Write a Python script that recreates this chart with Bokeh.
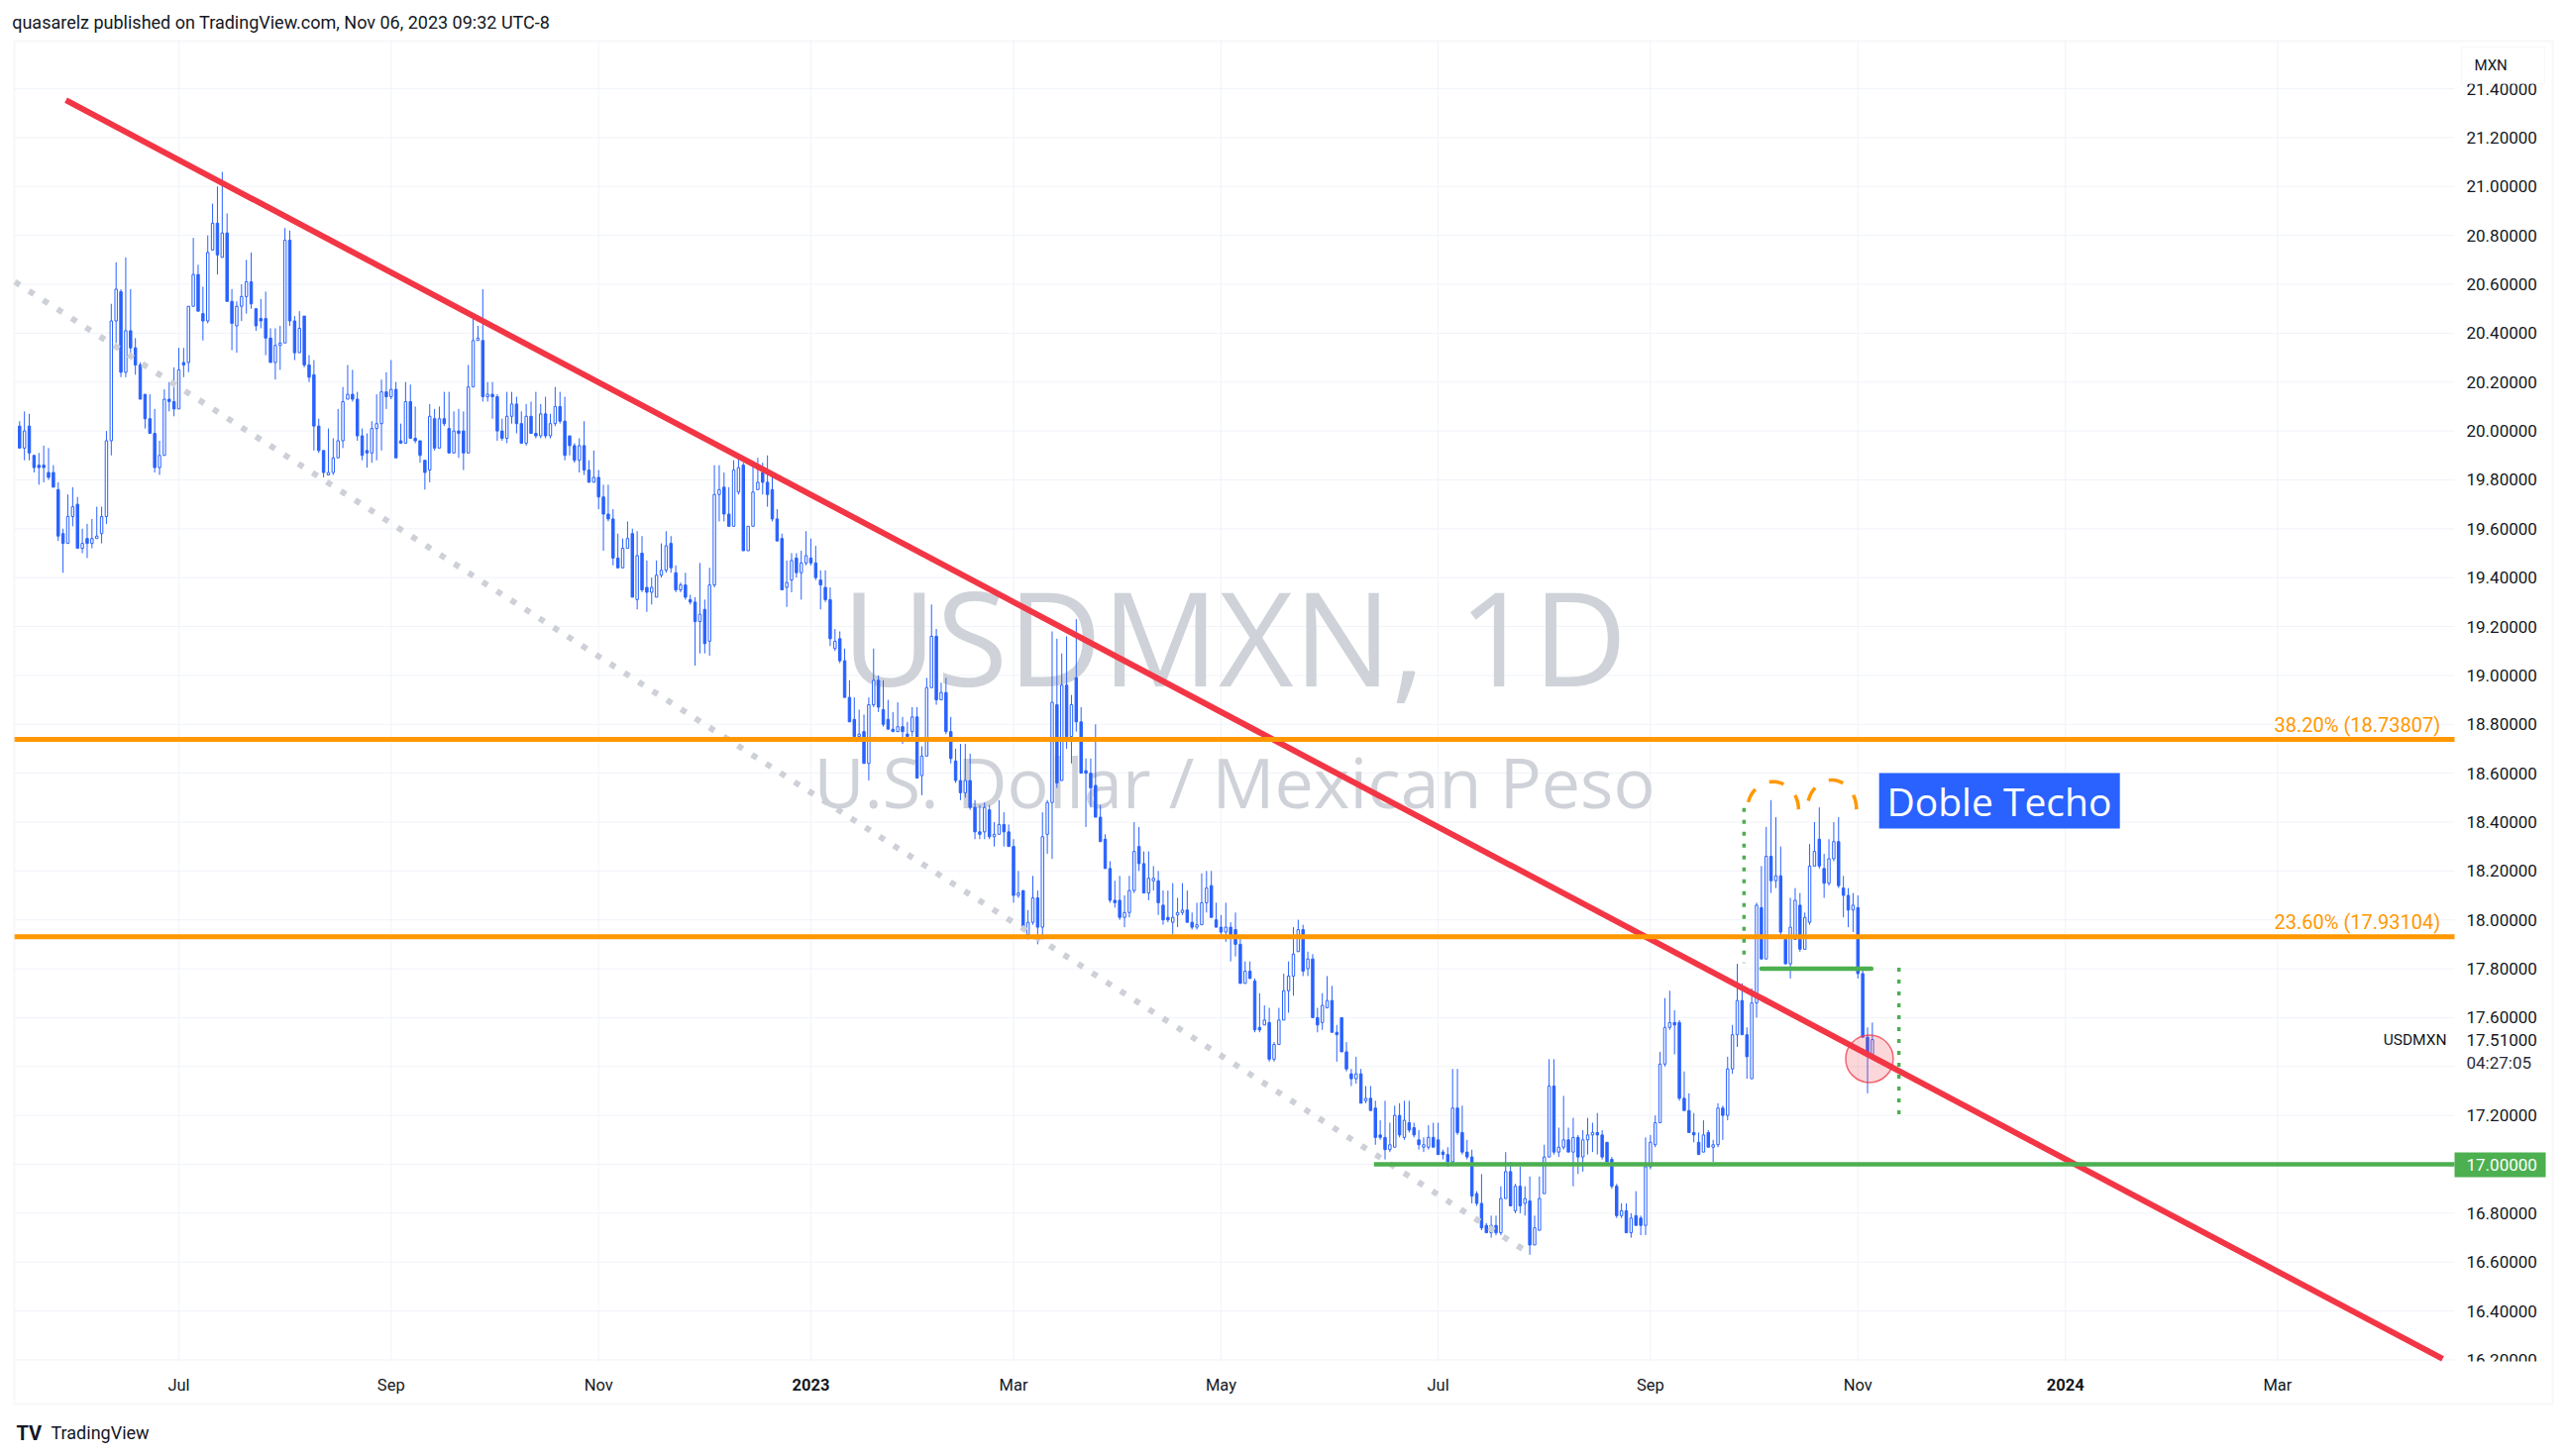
import numpy as np
from bokeh.plotting import figure
from bokeh.models import (Range1d, FixedTicker, PrintfTickFormatter, Label, BoxAnnotation)
from bokeh.core.properties import value
from bokeh.embed import file_html
from bokeh.resources import INLINE

# ---------------- data (daily USDMXN candles, business-day bar index) ----------------
# bar 0 = 2022-07-01 ; first bar (-33) = 2022-05-17 ; last bar (351) = 2023-11-06
FIRST_BAR = -33

opens = [
    20.02, 19.93, 20.02, 19.90, 19.86, 19.86, 19.83, 19.83, 19.76, 19.58,
    19.54, 19.65, 19.70, 19.52, 19.56, 19.54, 19.56, 19.58, 19.65, 19.96,
    20.45, 20.57, 20.24, 20.41, 20.34, 20.27, 20.15, 20.05, 19.99, 19.85,
    19.90, 20.13, 20.12, 20.09, 20.28, 20.28, 20.51, 20.64, 20.48, 20.45,
    20.74, 20.85, 20.71, 20.81, 20.53, 20.43, 20.51, 20.55, 20.61, 20.50,
    20.46, 20.46, 20.38, 20.28, 20.35, 20.36, 20.78, 20.45, 20.32, 20.47,
    20.27, 20.23, 20.02, 19.92, 19.82, 19.83, 19.89, 19.96, 20.13, 20.15,
    20.13, 19.98, 19.92, 19.91, 20.01, 20.03, 20.16, 20.14, 20.17, 19.96,
    19.95, 20.12, 19.97, 19.96, 19.88, 19.84, 20.05, 19.93, 20.05, 20.01,
    19.91, 20.00, 20.00, 19.91, 20.18, 20.37, 20.37, 20.14, 20.15, 20.14,
    20.00, 19.97, 20.06, 20.11, 20.03, 19.95, 20.06, 19.99, 19.98, 20.07,
    19.98, 20.03, 20.10, 20.04, 19.98, 19.94, 19.88, 19.94, 19.84, 19.79,
    19.81, 19.73, 19.66, 19.64, 19.48, 19.44, 19.52, 19.58, 19.31, 19.50,
    19.36, 19.34, 19.32, 19.41, 19.43, 19.54, 19.42, 19.35, 19.37, 19.31,
    19.30, 19.22, 19.27, 19.14, 19.37, 19.74, 19.77, 19.66, 19.61, 19.75,
    19.86, 19.51, 19.61, 19.76, 19.83, 19.79, 19.76, 19.64, 19.56, 19.36,
    19.39, 19.48, 19.42, 19.46, 19.48, 19.46, 19.39, 19.36, 19.31, 19.11,
    19.15, 19.06, 18.91, 18.82, 18.75, 18.77, 18.64, 18.88, 18.98, 18.86,
    18.82, 18.78, 18.77, 18.79, 18.76, 18.77, 18.83, 18.59, 18.67, 18.95,
    19.16, 18.90, 18.93, 18.77, 18.65, 18.57, 18.52, 18.57, 18.46, 18.36,
    18.36, 18.45, 18.34, 18.35, 18.39, 18.36, 18.30, 18.10, 18.12, 17.94,
    17.99, 18.09, 17.97, 18.35, 18.48, 18.88, 18.57, 18.96, 18.75, 18.99,
    18.81, 18.61, 18.60, 18.55, 18.42, 18.33, 18.21, 18.08, 18.08, 18.01,
    18.03, 18.12, 18.30, 18.23, 18.11, 18.16, 18.16, 18.06, 18.01, 17.99,
    18.02, 18.03, 18.04, 17.99, 17.97, 17.98, 18.07, 18.14, 18.00, 17.97,
    17.95, 17.97, 17.96, 17.90, 17.74, 17.79, 17.75, 17.56, 17.57, 17.58,
    17.43, 17.49, 17.59, 17.71, 17.77, 17.87, 17.96, 17.80, 17.84, 17.60,
    17.58, 17.64, 17.67, 17.54, 17.60, 17.46, 17.37, 17.35, 17.37, 17.26,
    17.27, 17.23, 17.12, 17.11, 17.06, 17.07, 17.20, 17.11, 17.17, 17.15,
    17.10, 17.07, 17.07, 17.11, 17.10, 17.05, 17.04, 17.01, 17.23, 17.13,
    17.05, 17.03, 16.88, 16.84, 16.75, 16.72, 16.75, 16.72, 16.86, 16.97,
    16.81, 16.91, 16.84, 16.85, 16.67, 16.73, 16.88, 17.03, 17.32, 17.05,
    17.07, 17.10, 17.05, 17.11, 17.03, 17.10, 17.12, 17.13, 17.12, 17.09,
    17.02, 16.91, 16.79, 16.81, 16.72, 16.79, 16.78, 16.75, 16.99, 17.08,
    17.17, 17.41, 17.56, 17.58, 17.58, 17.27, 17.22, 17.13, 17.09, 17.05,
    17.13, 17.07, 17.08, 17.23, 17.20, 17.39, 17.53, 17.67, 17.53, 17.35,
    17.66, 18.05, 17.84, 18.26, 18.16, 18.18, 17.92, 17.82, 17.92, 18.06,
    17.88, 17.99, 18.22, 18.33, 18.21, 18.15, 18.25, 18.32, 18.13, 18.10,
    18.04, 18.05, 17.78, 17.52, 17.45,
]
highs = [
    20.04, 20.08, 20.07, 19.90, 19.91, 19.94, 19.93, 19.86, 19.79, 19.60,
    19.74, 19.77, 19.73, 19.60, 19.62, 19.64, 19.69, 19.69, 20.00, 20.52,
    20.69, 20.58, 20.71, 20.58, 20.38, 20.28, 20.15, 20.15, 20.09, 19.96,
    20.17, 20.20, 20.26, 20.34, 20.34, 20.51, 20.79, 20.68, 20.59, 20.80,
    20.93, 21.00, 21.06, 20.89, 20.58, 20.53, 20.60, 20.70, 20.73, 20.50,
    20.54, 20.57, 20.42, 20.42, 20.43, 20.83, 20.82, 20.47, 20.49, 20.47,
    20.31, 20.29, 20.05, 19.92, 20.01, 19.97, 20.09, 20.18, 20.27, 20.25,
    20.16, 20.01, 19.99, 20.04, 20.15, 20.21, 20.24, 20.29, 20.20, 20.03,
    20.20, 20.19, 20.10, 19.96, 19.88, 20.11, 20.09, 20.10, 20.16, 20.16,
    20.08, 20.09, 20.08, 20.27, 20.46, 20.43, 20.58, 20.20, 20.20, 20.15,
    20.05, 20.16, 20.16, 20.14, 20.08, 20.11, 20.12, 20.16, 20.11, 20.14,
    20.07, 20.18, 20.16, 20.14, 19.98, 19.95, 19.97, 20.04, 19.88, 19.92,
    19.84, 19.78, 19.78, 19.68, 19.58, 19.56, 19.63, 19.60, 19.59, 19.57,
    19.47, 19.40, 19.47, 19.54, 19.59, 19.57, 19.45, 19.38, 19.42, 19.33,
    19.32, 19.46, 19.31, 19.44, 19.86, 19.86, 19.83, 19.77, 19.88, 19.89,
    19.87, 19.61, 19.86, 19.89, 19.87, 19.90, 19.81, 19.68, 19.58, 19.47,
    19.50, 19.50, 19.51, 19.59, 19.56, 19.53, 19.43, 19.43, 19.36, 19.19,
    19.18, 19.11, 18.98, 18.91, 18.86, 18.84, 18.91, 19.11, 19.00, 18.98,
    18.90, 18.85, 18.89, 18.83, 18.81, 18.87, 18.87, 18.71, 18.99, 19.29,
    19.19, 18.97, 18.99, 18.83, 18.70, 18.72, 18.72, 18.68, 18.49, 18.47,
    18.48, 18.47, 18.40, 18.49, 18.44, 18.39, 18.33, 18.20, 18.12, 18.04,
    18.18, 18.12, 18.44, 18.49, 19.18, 19.15, 19.09, 19.16, 18.92, 19.23,
    18.87, 18.66, 18.66, 18.80, 18.47, 18.35, 18.24, 18.16, 18.18, 18.10,
    18.18, 18.40, 18.38, 18.28, 18.28, 18.22, 18.20, 18.12, 18.12, 18.15,
    18.09, 18.15, 18.12, 18.03, 18.07, 18.19, 18.20, 18.20, 18.07, 18.02,
    18.07, 17.99, 18.03, 17.94, 17.83, 17.83, 17.76, 17.70, 17.65, 17.64,
    17.50, 17.64, 17.78, 17.83, 17.97, 18.00, 17.98, 17.87, 17.86, 17.64,
    17.70, 17.77, 17.73, 17.57, 17.60, 17.50, 17.39, 17.44, 17.39, 17.32,
    17.32, 17.26, 17.18, 17.26, 17.17, 17.24, 17.25, 17.26, 17.26, 17.17,
    17.14, 17.11, 17.16, 17.17, 17.17, 17.06, 17.07, 17.39, 17.39, 17.24,
    17.10, 17.06, 16.89, 16.96, 16.76, 16.79, 16.79, 16.91, 17.05, 17.01,
    16.92, 16.99, 16.91, 16.95, 16.79, 16.95, 17.08, 17.43, 17.43, 17.15,
    17.28, 17.15, 17.19, 17.12, 17.14, 17.19, 17.17, 17.21, 17.14, 17.09,
    17.03, 16.92, 16.84, 16.84, 16.80, 16.89, 16.79, 17.11, 17.12, 17.20,
    17.46, 17.68, 17.71, 17.63, 17.59, 17.38, 17.29, 17.21, 17.13, 17.18,
    17.14, 17.10, 17.25, 17.24, 17.44, 17.57, 17.82, 17.74, 17.56, 17.72,
    18.07, 18.22, 18.38, 18.49, 18.42, 18.30, 17.93, 18.09, 18.13, 18.11,
    18.03, 18.31, 18.40, 18.46, 18.27, 18.33, 18.40, 18.42, 18.18, 18.13,
    18.11, 18.10, 17.80, 17.56, 17.58,
]
lows = [
    19.93, 19.88, 19.88, 19.83, 19.78, 19.79, 19.80, 19.77, 19.55, 19.42,
    19.54, 19.61, 19.52, 19.50, 19.48, 19.52, 19.56, 19.54, 19.62, 19.90,
    20.36, 20.22, 20.22, 20.30, 20.23, 20.13, 20.01, 19.99, 19.83, 19.82,
    19.90, 20.08, 20.06, 20.09, 20.22, 20.24, 20.51, 20.49, 20.37, 20.44,
    20.74, 20.64, 20.71, 20.53, 20.33, 20.32, 20.45, 20.48, 20.50, 20.41,
    20.42, 20.31, 20.28, 20.21, 20.25, 20.36, 20.43, 20.29, 20.32, 20.26,
    20.20, 19.92, 19.91, 19.81, 19.82, 19.82, 19.89, 19.93, 20.13, 20.12,
    19.96, 19.88, 19.85, 19.87, 19.88, 19.92, 20.09, 20.13, 19.89, 19.95,
    19.95, 19.97, 19.95, 19.87, 19.76, 19.79, 19.92, 19.93, 20.02, 19.91,
    19.91, 19.89, 19.84, 19.91, 20.18, 20.37, 20.12, 20.12, 20.05, 19.96,
    19.96, 19.95, 20.03, 19.99, 19.95, 19.94, 19.99, 19.97, 19.97, 19.97,
    19.97, 20.02, 20.03, 19.88, 19.90, 19.87, 19.83, 19.82, 19.79, 19.79,
    19.68, 19.51, 19.63, 19.45, 19.44, 19.44, 19.52, 19.32, 19.27, 19.34,
    19.26, 19.29, 19.32, 19.40, 19.42, 19.42, 19.34, 19.34, 19.31, 19.29,
    19.04, 19.09, 19.09, 19.08, 19.36, 19.63, 19.63, 19.61, 19.61, 19.74,
    19.51, 19.51, 19.61, 19.76, 19.74, 19.69, 19.63, 19.55, 19.35, 19.28,
    19.34, 19.40, 19.31, 19.45, 19.45, 19.39, 19.27, 19.30, 19.12, 19.10,
    19.05, 18.91, 18.81, 18.75, 18.75, 18.64, 18.57, 18.87, 18.85, 18.79,
    18.78, 18.77, 18.77, 18.72, 18.75, 18.75, 18.58, 18.51, 18.67, 18.95,
    18.88, 18.90, 18.76, 18.64, 18.56, 18.49, 18.50, 18.45, 18.33, 18.33,
    18.33, 18.33, 18.30, 18.35, 18.30, 18.30, 18.07, 18.09, 17.96, 17.92,
    17.98, 17.90, 17.92, 18.27, 18.25, 18.54, 18.57, 18.70, 18.64, 18.77,
    18.60, 18.38, 18.46, 18.42, 18.32, 18.21, 18.07, 18.05, 18.00, 17.97,
    18.01, 18.11, 18.20, 18.11, 18.08, 18.12, 18.02, 17.98, 17.99, 17.94,
    17.97, 18.02, 17.99, 17.96, 17.96, 17.98, 18.03, 18.01, 17.97, 17.94,
    17.91, 17.83, 17.85, 17.74, 17.74, 17.76, 17.54, 17.54, 17.57, 17.42,
    17.42, 17.49, 17.59, 17.62, 17.69, 17.87, 17.77, 17.77, 17.60, 17.54,
    17.55, 17.64, 17.54, 17.42, 17.46, 17.38, 17.32, 17.33, 17.25, 17.25,
    17.22, 17.08, 17.10, 17.02, 17.05, 17.07, 17.11, 17.10, 17.13, 17.11,
    17.06, 17.05, 17.06, 17.07, 17.04, 17.02, 16.99, 17.00, 17.12, 17.04,
    17.02, 16.84, 16.83, 16.73, 16.72, 16.70, 16.71, 16.71, 16.86, 16.83,
    16.80, 16.80, 16.79, 16.63, 16.67, 16.73, 16.88, 17.03, 17.04, 17.03,
    17.06, 17.05, 16.91, 16.96, 16.97, 17.04, 17.05, 17.04, 17.02, 17.01,
    16.90, 16.78, 16.78, 16.72, 16.70, 16.75, 16.71, 16.71, 16.98, 17.07,
    17.17, 17.40, 17.55, 17.45, 17.26, 17.22, 17.13, 17.09, 17.04, 17.05,
    17.07, 17.01, 17.07, 17.10, 17.18, 17.37, 17.48, 17.53, 17.35, 17.35,
    17.60, 17.84, 17.84, 18.11, 18.13, 17.93, 17.82, 17.76, 17.92, 17.87,
    17.88, 17.98, 18.22, 18.21, 18.09, 18.14, 18.24, 18.13, 18.01, 17.97,
    17.95, 17.76, 17.52, 17.29, 17.45,
]
closes = [
    19.93, 20.00, 19.91, 19.85, 19.85, 19.85, 19.81, 19.77, 19.57, 19.54,
    19.65, 19.69, 19.52, 19.54, 19.54, 19.56, 19.57, 19.65, 19.96, 20.45,
    20.58, 20.24, 20.41, 20.34, 20.27, 20.13, 20.05, 19.99, 19.85, 19.90,
    20.13, 20.12, 20.09, 20.25, 20.27, 20.51, 20.64, 20.49, 20.45, 20.73,
    20.85, 20.72, 20.81, 20.53, 20.44, 20.51, 20.55, 20.61, 20.52, 20.43,
    20.45, 20.38, 20.28, 20.35, 20.36, 20.78, 20.45, 20.32, 20.42, 20.27,
    20.22, 20.02, 19.92, 19.83, 19.83, 19.89, 19.96, 20.12, 20.15, 20.13,
    19.98, 19.90, 19.91, 20.01, 20.03, 20.16, 20.14, 20.17, 19.89, 19.95,
    20.12, 19.97, 19.96, 19.90, 19.83, 20.06, 19.93, 20.05, 20.03, 19.91,
    20.00, 19.99, 19.91, 20.18, 20.37, 20.38, 20.14, 20.15, 20.14, 20.00,
    19.97, 20.06, 20.11, 20.03, 19.95, 20.06, 19.99, 19.98, 20.07, 19.98,
    20.03, 20.10, 20.04, 19.90, 19.94, 19.88, 19.94, 19.84, 19.79, 19.81,
    19.73, 19.66, 19.64, 19.48, 19.44, 19.52, 19.56, 19.32, 19.49, 19.35,
    19.34, 19.36, 19.41, 19.43, 19.53, 19.44, 19.35, 19.37, 19.32, 19.30,
    19.22, 19.25, 19.13, 19.37, 19.74, 19.76, 19.66, 19.61, 19.84, 19.85,
    19.51, 19.61, 19.75, 19.79, 19.79, 19.74, 19.64, 19.55, 19.35, 19.38,
    19.47, 19.42, 19.46, 19.49, 19.46, 19.40, 19.37, 19.31, 19.15, 19.14,
    19.06, 18.91, 18.81, 18.75, 18.76, 18.64, 18.88, 18.98, 18.87, 18.80,
    18.78, 18.77, 18.79, 18.77, 18.75, 18.83, 18.58, 18.67, 18.95, 19.16,
    18.90, 18.93, 18.77, 18.66, 18.57, 18.52, 18.57, 18.46, 18.36, 18.35,
    18.46, 18.34, 18.35, 18.39, 18.36, 18.30, 18.10, 18.11, 17.97, 17.99,
    18.09, 17.97, 18.34, 18.48, 18.89, 18.56, 18.96, 18.75, 18.88, 18.81,
    18.60, 18.60, 18.54, 18.42, 18.32, 18.21, 18.08, 18.07, 18.01, 18.03,
    18.12, 18.28, 18.23, 18.11, 18.17, 18.17, 18.07, 18.00, 18.00, 18.01,
    18.03, 18.04, 17.99, 17.97, 17.98, 18.07, 18.13, 18.01, 17.97, 17.95,
    17.97, 17.94, 17.90, 17.74, 17.79, 17.76, 17.55, 17.55, 17.59, 17.43,
    17.49, 17.59, 17.71, 17.77, 17.86, 17.96, 17.79, 17.84, 17.60, 17.57,
    17.65, 17.67, 17.54, 17.53, 17.46, 17.39, 17.35, 17.37, 17.25, 17.27,
    17.22, 17.11, 17.11, 17.06, 17.08, 17.20, 17.12, 17.18, 17.14, 17.12,
    17.08, 17.08, 17.11, 17.07, 17.04, 17.04, 17.01, 17.23, 17.13, 17.05,
    17.03, 16.87, 16.84, 16.74, 16.72, 16.75, 16.72, 16.86, 16.97, 16.83,
    16.91, 16.83, 16.86, 16.67, 16.74, 16.86, 17.03, 17.32, 17.05, 17.07,
    17.10, 17.05, 17.11, 17.03, 17.10, 17.12, 17.13, 17.12, 17.03, 17.01,
    16.91, 16.79, 16.81, 16.72, 16.78, 16.75, 16.75, 16.99, 17.09, 17.17,
    17.41, 17.56, 17.58, 17.57, 17.27, 17.22, 17.13, 17.12, 17.04, 17.12,
    17.07, 17.08, 17.23, 17.20, 17.39, 17.53, 17.67, 17.53, 17.44, 17.66,
    18.06, 17.84, 18.26, 18.16, 18.18, 17.95, 17.82, 17.97, 18.08, 17.88,
    18.01, 18.22, 18.28, 18.22, 18.15, 18.25, 18.32, 18.14, 18.10, 18.04,
    18.06, 17.78, 17.52, 17.45, 17.51,
]

# axis ticks
month_ticks = [0, 44, 87, 131, 173, 216, 261, 305, 348, 391, 435]
month_labels = ["Jul", "Sep", "Nov", "2023", "Mar", "May", "Jul", "Sep", "Nov", "2024", "Mar"]
year_flags = [False, False, False, True, False, False, False, False, False, True, False]
grid_price_ticks = [16.2, 16.4, 16.6, 16.8, 17.0, 17.2, 17.4, 17.6, 17.8, 18.0, 18.2, 18.4,
                    18.6, 18.8, 19.0, 19.2, 19.4, 19.6, 19.8, 20.0, 20.2, 20.4, 20.6, 20.8,
                    21.0, 21.2, 21.4]
label_price_ticks = [16.2, 16.4, 16.6, 16.8, 17.0, 17.2, 17.6, 17.8, 18.0, 18.2, 18.4,
                     18.6, 18.8, 19.0, 19.2, 19.4, 19.6, 19.8, 20.0, 20.2, 20.4, 20.6, 20.8,
                     21.0, 21.2, 21.4]

# drawings on the chart
fib_levels = [18.73807, 17.93104]
fib_texts = ["38.20% (18.73807)", "23.60% (17.93104)"]
support_level = 17.0
support_start_bar = 247.7
neckline_level = 17.80
neckline_bars = [328.0, 350.8]
trend_bars = [-23.4, 469.2]
trend_prices = [21.353, 16.204]
channel_bars = [-34.0, 279.5]
channel_prices = [20.610, 16.641]
measure_bars = [324.4, 356.5]
measure_tops = [18.458, 17.804]
measure_bottoms = [17.824, 17.176]
arc_centers = [330.4, 342.6]
arc_half_widths = [5.3, 5.1]
arc_base = 18.452
arc_heights = [0.113, 0.120]
circle_bar = 350.4
circle_price = 17.432
last_price = 17.51
tag_box = dict(left=352.4, right=402.3, bottom=18.374, top=18.600)

# ---------------- page layout (pixels) ----------------
W, H = 2585, 1465
PANE = dict(left=14, right=2477, top=41, bottom=1374)     # price pane
BOX = dict(left=14, right=2576, top=41, bottom=1417)      # chart widget border
PX_BAR0, PX_PER_BAR = 180.0, 4.87        # x pixel of bar 0, pixels per bar
PY_17, PX_PER_UNIT = 1175.0, 246.8       # y pixel of 17.0, pixels per 1.0 MXN


def bar_at(px):
    return (px - PX_BAR0) / PX_PER_BAR


def price_at(py):
    return 17.0 + (PY_17 - py) / PX_PER_UNIT


FONT = "Roboto"
TXT = "#131722"
BLUE = "#2962ff"

p = figure(width=W, height=H, x_range=Range1d(bar_at(0), bar_at(W)),
           y_range=Range1d(price_at(H), price_at(0)),
           output_backend="svg", toolbar_location=None, y_axis_location="right",
           title=None, min_border=0)
p.outline_line_color = None
p.background_fill_color = "white"
p.border_fill_color = "white"
p.xgrid.visible = False
p.ygrid.visible = False

pl, pr = bar_at(PANE["left"]), bar_at(PANE["right"])
pt, pb = price_at(PANE["top"]), price_at(PANE["bottom"])

# x axis (labels inside the time-scale strip)
p.xaxis.ticker = FixedTicker(ticks=month_ticks)
p.xaxis.major_label_overrides = {t: ("" if y else l)
                                 for t, l, y in zip(month_ticks, month_labels, year_flags)}
p.xaxis.major_label_text_font = FONT
p.xaxis.major_label_text_font_size = "16.5px"
p.xaxis.major_label_text_color = TXT
p.xaxis.major_label_standoff = 1388 - H
p.xaxis.axis_line_color = None
p.xaxis.major_tick_line_color = None
p.xaxis.minor_tick_line_color = None
p.xaxis.major_tick_out = 0
p.xaxis.major_tick_in = 0

# y axis (labels inside the price-scale strip)
p.yaxis.ticker = FixedTicker(ticks=label_price_ticks)
p.yaxis.formatter = PrintfTickFormatter(format="%.5f")
p.yaxis.major_label_text_font = FONT
p.yaxis.major_label_text_font_size = "17px"
p.yaxis.major_label_text_color = TXT
p.yaxis.major_label_standoff = 2489 - W
p.yaxis.axis_line_color = None
p.yaxis.major_tick_line_color = None
p.yaxis.minor_tick_line_color = None
p.yaxis.major_tick_out = 0
p.yaxis.major_tick_in = 0

# grid lines restricted to the price pane
ng = len(grid_price_ticks)
p.segment(x0=[pl] * ng, x1=[pr] * ng, y0=grid_price_ticks, y1=grid_price_ticks,
          line_color="#f0f3fa", line_width=1, level="underlay")
nm = len(month_ticks)
p.segment(x0=month_ticks, x1=month_ticks, y0=[pb] * nm, y1=[pt] * nm,
          line_color="#f0f3fa", line_width=1, level="underlay")

# watermark
p.text(x=[bar_at(1245.5)], y=[price_at(641)], text=["USDMXN, 1D"], text_align="center",
       text_baseline="middle", text_font=value("Open Sans"), text_font_size="131px",
       text_color="#cfd2d8", level="underlay")
p.text(x=[bar_at(1245.5)], y=[price_at(788)], text=["U.S. Dollar / Mexican Peso"],
       text_align="center", text_baseline="middle", text_font=value("Open Sans"),
       text_font_size="70px", text_color="#cfd2d8", level="underlay")

# candles
o = np.array(opens); h = np.array(highs); l = np.array(lows); c = np.array(closes)
assert len(o) == len(h) == len(l) == len(c)
x = np.arange(FIRST_BAR, FIRST_BAR + len(c))
body_top = np.maximum(o, c)
body_bot = np.minimum(o, c)
body_bot = np.where(body_top - body_bot < 0.004, body_top - 0.004, body_bot)
up = c >= o
p.segment(x0=x, y0=np.minimum(l, body_bot), x1=x, y1=np.maximum(h, body_top),
          line_color=BLUE, line_width=1)
p.vbar(x=x[up], width=0.5, top=body_top[up], bottom=body_bot[up],
       fill_color="white", line_color=BLUE, line_width=1)
p.vbar(x=x[~up], width=0.5, top=body_top[~up], bottom=body_bot[~up],
       fill_color=BLUE, line_color=BLUE, line_width=1)

# grey dotted channel line
p.line(channel_bars, channel_prices, line_color="#cdd0d7", line_width=6, line_dash="6 11")

# pink circle
p.scatter([circle_bar], [circle_price], marker="circle", size=48, fill_color="#f23645",
          fill_alpha=0.2, line_color="#f23645", line_alpha=0.75, line_width=1.5)

# red trend line
p.line(trend_bars, trend_prices, line_color="#f23645", line_width=6)

# fib levels
for lvl, txt in zip(fib_levels, fib_texts):
    p.line([pl, pr], [lvl, lvl], line_color="#ff9800", line_width=5)
    p.add_layout(Label(x=bar_at(2462.7), y=lvl, text=txt, text_align="right",
                       text_baseline="alphabetic", y_offset=15, text_font=FONT,
                       text_font_size="20px", text_color="#ff9800"))

# green support and neckline
p.line([support_start_bar, pr], [support_level, support_level], line_color="#4caf50",
       line_width=4.5)
p.line(neckline_bars, [neckline_level, neckline_level], line_color="#4caf50", line_width=4.5,
       line_cap="round")
for b, t, btm in zip(measure_bars, measure_tops, measure_bottoms):
    p.line([b, b], [t, btm], line_color="#4caf50", line_width=3.5, line_dash="4 8")

# double top arcs
t = np.linspace(0, np.pi, 60)
for cx, hw, ht in zip(arc_centers, arc_half_widths, arc_heights):
    p.line(cx + hw * np.cos(t), arc_base + ht * np.sin(t), line_color="#ff9800",
           line_width=3.5, line_dash="15 16")

# "Doble Techo" tag
p.quad(left=[tag_box["left"]], right=[tag_box["right"]], bottom=[tag_box["bottom"]],
       top=[tag_box["top"]], fill_color=BLUE, line_color=None)
p.text(x=[tag_box["left"] + 1.6], y=[(tag_box["bottom"] + tag_box["top"]) / 2],
       text=["Doble Techo"], text_font=value("Open Sans"), text_font_size="39px",
       text_color="white", text_align="left", text_baseline="middle")

# bold year labels on the time scale
for tk, lab, yr in zip(month_ticks, month_labels, year_flags):
    if yr:
        p.add_layout(Label(x=tk, y=price_at(1397), text=lab, text_align="center",
                           text_baseline="middle", text_font=FONT, text_font_size="16.5px",
                           text_font_style="bold", text_color=TXT))

# hide the lower half of the clipped 16.2 label (below the pane, as in the scale strip)
p.add_layout(BoxAnnotation(left=pr, right=bar_at(BOX["right"]), top=pb,
                           bottom=price_at(BOX["bottom"]), fill_color="white",
                           fill_alpha=1.0, line_color=None))

# price scale labels
sx_lab = bar_at(2489)
p.add_layout(BoxAnnotation(left=bar_at(2477), right=bar_at(2569), top=price_at(1163),
                           bottom=price_at(1188), fill_color="#4caf50", fill_alpha=1.0,
                           line_color=None))
p.add_layout(Label(x=sx_lab, y=support_level, text="17.00000",
                   text_baseline="middle", text_font=FONT, text_font_size="17px",
                   text_color="white"))
p.add_layout(Label(x=sx_lab, y=last_price, text="17.51000",
                   text_baseline="middle", text_font=FONT, text_font_size="17px",
                   text_color=TXT))
p.add_layout(Label(x=sx_lab, y=price_at(1072), text="04:27:05",
                   text_baseline="middle", text_font=FONT, text_font_size="17px",
                   text_color="#2a2e39"))
p.add_layout(Label(x=bar_at(2469), y=last_price, text="USDMXN",
                   text_align="right", text_baseline="middle", text_font=FONT,
                   text_font_size="15.5px", text_color=TXT))
p.add_layout(BoxAnnotation(left=bar_at(2484), right=bar_at(2568), top=price_at(47),
                           bottom=price_at(84), fill_color="white", fill_alpha=1.0,
                           line_color="#e0e3eb", line_width=1))
p.add_layout(Label(x=bar_at(2497), y=price_at(65.5), text="MXN",
                   text_baseline="middle", text_font=FONT, text_font_size="15px",
                   text_color=TXT))

# header / footer
p.add_layout(Label(x=bar_at(11.7), y=price_at(21.7),
                   text="quasarelz published on TradingView.com, Nov 06, 2023 09:32 UTC-8",
                   text_baseline="middle", text_font=FONT, text_font_size="18px",
                   text_color=TXT))
p.add_layout(Label(x=bar_at(16), y=price_at(1446), text="TV",
                   text_baseline="middle", text_font=FONT, text_font_size="20px",
                   text_font_style="bold", text_color=TXT))
p.add_layout(Label(x=bar_at(51), y=price_at(1446), text="TradingView",
                   text_baseline="middle", text_font=FONT, text_font_size="18px",
                   text_color=TXT))

# chart widget border
p.add_layout(BoxAnnotation(left=bar_at(BOX["left"]), right=bar_at(BOX["right"]),
                           top=price_at(BOX["top"]), bottom=price_at(BOX["bottom"]),
                           fill_color=None, line_color="#e3e5ea", line_width=2))

open("out.html", "w").write(file_html(p, INLINE))
